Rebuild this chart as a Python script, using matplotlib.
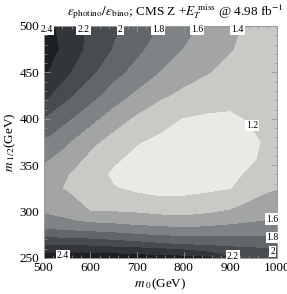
import numpy as np
import matplotlib
matplotlib.use("Agg")
import matplotlib.pyplot as plt
from matplotlib.colors import ListedColormap, BoundaryNorm
from matplotlib.ticker import MultipleLocator

plt.rcParams["font.family"] = ["Liberation Serif", "DejaVu Serif"]
plt.rcParams["mathtext.fontset"] = "stix"

# grid: m0 columns, m1/2 rows, ratio values
m0 = [500, 550, 600, 650, 700, 750, 800, 850, 900, 950, 1000]
m12 = [250, 255, 260, 265, 270, 275, 280, 290, 300, 310, 325, 340, 355, 375, 400, 425, 450, 475, 500]
ratio = [
    [2.51, 2.52, 2.52, 2.51, 2.49, 2.48, 2.46, 2.44, 2.22, 2.17, 2.14],
    [2.40, 2.40, 2.40, 2.39, 2.36, 2.34, 2.31, 2.24, 2.13, 2.09, 2.07],
    [2.29, 2.28, 2.27, 2.25, 2.23, 2.20, 2.16, 2.09, 2.04, 2.015, 2.00],
    [2.175, 2.16, 2.15, 2.11, 2.07, 2.02, 1.98, 1.96, 1.945, 1.93, 1.92],
    [2.05, 2.03, 2.01, 1.975, 1.93, 1.89, 1.87, 1.86, 1.855, 1.85, 1.845],
    [1.93, 1.91, 1.88, 1.85, 1.81, 1.78, 1.76, 1.76, 1.77, 1.77, 1.78],
    [1.82, 1.79, 1.76, 1.73, 1.69, 1.67, 1.645, 1.66, 1.68, 1.71, 1.73],
    [1.67, 1.62, 1.56, 1.54, 1.51, 1.49, 1.47, 1.50, 1.54, 1.58, 1.62],
    [1.575, 1.535, 1.40, 1.397, 1.38, 1.35, 1.34, 1.37, 1.42, 1.50, 1.55],
    [1.525, 1.46, 1.35, 1.31, 1.26, 1.225, 1.23, 1.26, 1.31, 1.42, 1.48],
    [1.45, 1.385, 1.30, 1.21, 1.17, 1.16, 1.16, 1.17, 1.19, 1.32, 1.39],
    [1.53, 1.406, 1.28, 1.17, 1.13, 1.12, 1.12, 1.13, 1.15, 1.24, 1.32],
    [1.62, 1.50, 1.34, 1.22, 1.15, 1.11, 1.09, 1.10, 1.12, 1.19, 1.27],
    [1.78, 1.62, 1.45, 1.32, 1.21, 1.16, 1.12, 1.11, 1.12, 1.18, 1.24],
    [1.99, 1.83, 1.66, 1.49, 1.36, 1.26, 1.19, 1.17, 1.17, 1.22, 1.25],
    [2.26, 2.04, 1.87, 1.70, 1.55, 1.43, 1.35, 1.29, 1.255, 1.27, 1.27],
    [2.43, 2.23, 2.04, 1.86, 1.73, 1.59, 1.48, 1.41, 1.33, 1.30, 1.29],
    [2.52, 2.33, 2.14, 1.985, 1.84, 1.70, 1.59, 1.48, 1.41, 1.33, 1.31],
    [2.48, 2.31, 2.16, 2.035, 1.91, 1.79, 1.67, 1.55, 1.44, 1.35, 1.32],
]

levels = [0.0, 1.2, 1.4, 1.6, 1.8, 2.0, 2.2, 2.4, 3.0]
band_colors = ["#e9eae3", "#c9cac5", "#a2a5a4", "#7e8385", "#60666a",
               "#474c50", "#32363a", "#1c1e1f"]

# contour labels as Mathematica places them: (text, m0, m12)
labels = [("2.4", 507, 496), ("2.2", 586, 496), ("2", 664, 496),
          ("1.8", 745, 496), ("1.6", 829, 496), ("1.4", 916, 496),
          ("1.2", 946, 393), ("1.6", 989, 292), ("1.8", 991, 272),
          ("2", 991, 257), ("2.2", 906, 252), ("2.4", 542, 253)]

fig = plt.figure(figsize=(2.87, 2.94), dpi=100)
ax = fig.add_axes([43.5 / 287, 36 / 294, 233.5 / 287, 232 / 294])

cmap = ListedColormap(band_colors)
norm = BoundaryNorm(levels, cmap.N)
ax.contourf(m0, m12, np.array(ratio), levels=levels, cmap=cmap, norm=norm)

for txt, x, y in labels:
    ax.text(x, y, txt, fontsize=7, ha="center", va="center",
            bbox=dict(boxstyle="square,pad=0.12", fc="white", ec="none"))

ax.set_xlim(500, 1000)
ax.set_ylim(250, 500)
ax.xaxis.set_major_locator(MultipleLocator(100))
ax.xaxis.set_minor_locator(MultipleLocator(20))
ax.yaxis.set_major_locator(MultipleLocator(50))
ax.yaxis.set_minor_locator(MultipleLocator(10))
ax.tick_params(which="both", direction="in", top=True, right=True,
               color="#999999", labelsize=9.5, pad=3)
ax.tick_params(which="major", length=4, width=0.6)
ax.tick_params(which="minor", length=2, width=0.5)
for s in ax.spines.values():
    s.set_color("#999999")
    s.set_linewidth(0.7)

ax.set_xlabel(r"$m_{\ 0}$(GeV)", fontsize=9.5, labelpad=2)
ax.set_ylabel(r"$m_{\ 1/2}$(GeV)", fontsize=9.5, labelpad=1)

fig.text(175 / 287, 1 - 12 / 294,
         r"$\epsilon_{\rm photino}/\epsilon_{\rm bino}$; CMS Z +$E_T^{\ \rm miss}$ @ 4.98 fb$^{-1}$",
         fontsize=9.5, ha="center", va="center")

fig.savefig("out.png", dpi=100)
